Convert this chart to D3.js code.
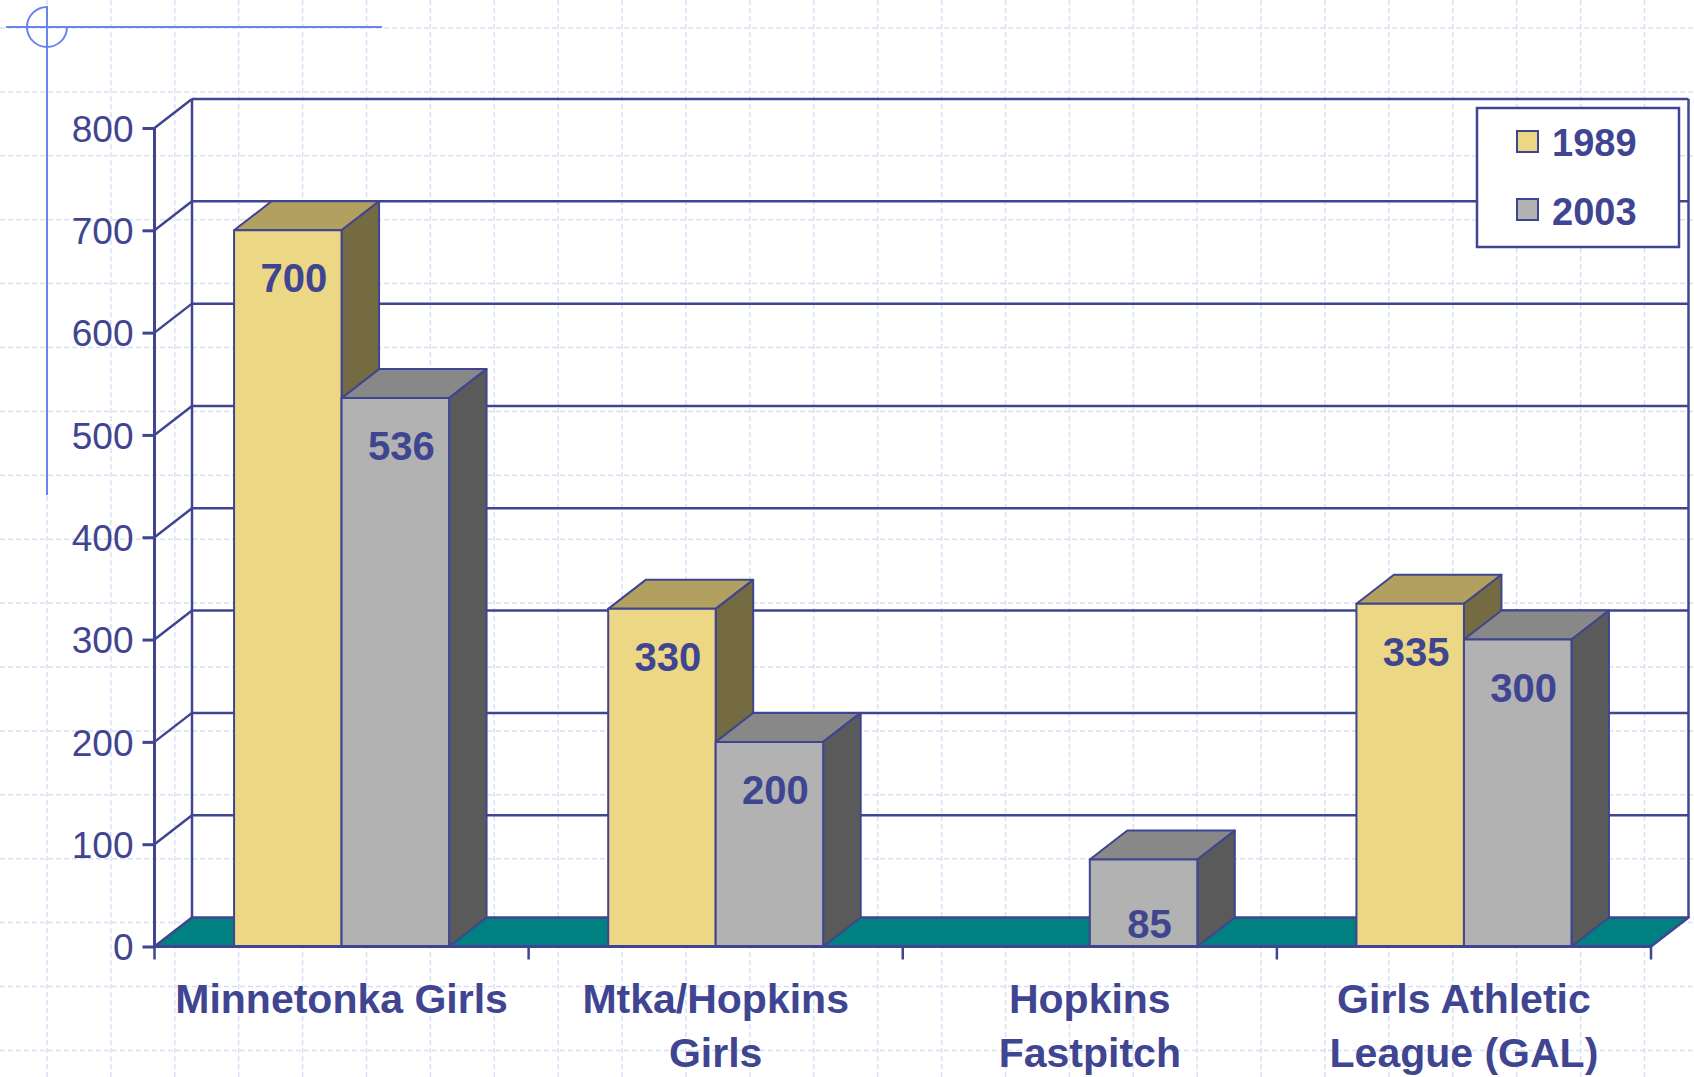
<!DOCTYPE html>
<html>
<head>
<meta charset="utf-8">
<script src="https://cdn.jsdelivr.net/npm/d3@7"></script>
<style>
  body { margin: 0; background: #fff; }
  svg { display: block; font-family: "Liberation Sans", Arial, sans-serif; }
</style>
</head>
<body>
<svg id="chart" width="1694" height="1077"></svg>
<script>
const categories = ['Minnetonka Girls', 'Mtka/Hopkins Girls', 'Hopkins Fastpitch', 'Girls Athletic League (GAL)']
const categoryLines = [['Minnetonka Girls'], ['Mtka/Hopkins', 'Girls'], ['Hopkins', 'Fastpitch'], ['Girls Athletic', 'League (GAL)']]
const seriesNames = ['1989', '2003']
const values1989 = [700, 330, null, 335]
const values2003 = [536, 200, 85, 300]
const yTicks = [0, 100, 200, 300, 400, 500, 600, 700, 800]

const ink = '#3f4590'
const faces = {
  '1989': { front: '#ebd784', top: '#b1a05f', side: '#756b42' },
  '2003': { front: '#b2b2b2', top: '#888888', side: '#5a5a5a' },
}

const W = 1694
const H = 1077
const margin = { left: 154.5, right: 43, top: 128, bottom: 130.5 }
const dx = 37.5
const dy = 29
const barHalf = 107.5

const svg = d3.select('#chart')

// template background grid
const bg = svg.append('g').attr('class', 'bg-grid')
  .attr('stroke', '#d8e0f6').attr('stroke-width', 1.5).attr('stroke-dasharray', '5,3')
d3.range(47, W, 63.9).forEach((gx) => {
  bg.append('line').attr('x1', gx).attr('x2', gx).attr('y1', 0).attr('y2', H)
})
d3.range(28, H, 63.9).forEach((gy) => {
  bg.append('line').attr('x1', 0).attr('x2', W).attr('y1', gy).attr('y2', gy)
})

// template ornament (top left)
const deco = svg.append('g').attr('stroke', '#6a84ee').attr('stroke-width', 2).attr('fill', 'none')
deco.append('line').attr('x1', 6).attr('x2', 382).attr('y1', 27).attr('y2', 27)
deco.append('line').attr('x1', 47).attr('x2', 47).attr('y1', 6).attr('y2', 495)
deco.append('path').attr('d', d3.arc()({ innerRadius: 20, outerRadius: 20, startAngle: Math.PI / 2, endAngle: 2 * Math.PI }))
  .attr('transform', 'translate(47,27)')

const y = d3.scaleLinear().domain([0, 800]).range([H - margin.bottom, margin.top])
const x0 = d3.scaleBand().domain(categories).range([margin.left, W - margin.right])
const x1 = d3.scaleBand().domain(seriesNames).range([-barHalf, barHalf])

const base = y(0)
const xL = x0.range()[0]
const xR = x0.range()[1]

// walls
const wall = svg.append('g').attr('class', 'walls').attr('stroke', ink).attr('fill', 'none')
yTicks.filter((t) => t > 0).forEach((t) => {
  wall.append('line').attr('x1', xL + dx).attr('x2', xR + dx).attr('y1', y(t) - dy).attr('y2', y(t) - dy)
    .attr('stroke-width', 2.5)
  wall.append('line').attr('x1', xL).attr('x2', xL + dx).attr('y1', y(t)).attr('y2', y(t) - dy)
    .attr('stroke-width', 2.5)
})
wall.append('line').attr('x1', xL + dx).attr('x2', xL + dx).attr('y1', y(800) - dy).attr('y2', base - dy)
  .attr('stroke-width', 2.5)
wall.append('line').attr('x1', xR + dx).attr('x2', xR + dx).attr('y1', y(800) - dy).attr('y2', base - dy)
  .attr('stroke-width', 2.5)

// floor
svg.append('polygon')
  .attr('points', [[xL, base], [xR, base], [xR + dx, base - dy], [xL + dx, base - dy]].join(' '))
  .attr('fill', '#008080').attr('stroke', ink).attr('stroke-width', 2.5).attr('stroke-linejoin', 'round')

// bars
const bars = []
categories.forEach((c, i) => {
  bars.push({ cat: c, series: '1989', value: values1989[i] })
  bars.push({ cat: c, series: '2003', value: values2003[i] })
})

const barG = svg.append('g').attr('class', 'bars')
  .attr('stroke', ink).attr('stroke-width', 2).attr('stroke-linejoin', 'round')

bars.filter((d) => d.value != null).forEach((d) => {
  const bx = x0(d.cat) + x0.bandwidth() / 2 + x1(d.series)
  const bw = x1.bandwidth()
  const top = y(d.value)
  const f = faces[d.series]
  barG.append('polygon')
    .attr('points', [[bx, top], [bx + dx, top - dy], [bx + bw + dx, top - dy], [bx + bw, top]].join(' '))
    .attr('fill', f.top)
  barG.append('polygon')
    .attr('points', [[bx + bw, top], [bx + bw + dx, top - dy], [bx + bw + dx, base - dy], [bx + bw, base]].join(' '))
    .attr('fill', f.side)
  barG.append('rect')
    .attr('x', bx).attr('y', top).attr('width', bw).attr('height', base - top)
    .attr('fill', f.front)
})

// value labels
svg.append('g').selectAll('text')
  .data(bars.filter((d) => d.value != null))
  .enter()
  .append('text')
  .attr('x', (d) => x0(d.cat) + x0.bandwidth() / 2 + x1(d.series) + x1.bandwidth() / 2 + 6)
  .attr('y', (d) => (base - y(d.value) < 110 ? base - 9 : y(d.value) + 62))
  .attr('text-anchor', 'middle')
  .attr('font-size', 40).attr('font-weight', 'bold').attr('fill', ink)
  .text((d) => d.value)

// front value axis
const yAxis = svg.append('g')
  .attr('transform', `translate(${xL},0)`)
  .call(d3.axisLeft(y).tickValues(yTicks).tickSize(12).tickPadding(9).tickSizeOuter(0))
yAxis.select('.domain').remove()
yAxis.selectAll('.tick line').attr('stroke', ink).attr('stroke-width', 3)
yAxis.selectAll('.tick text')
  .attr('font-family', '"Liberation Sans", Arial, sans-serif')
  .attr('font-size', 37).attr('fill', ink).attr('dy', '0.36em')

svg.append('line').attr('x1', xL).attr('x2', xL).attr('y1', y(800)).attr('y2', base)
  .attr('stroke', ink).attr('stroke-width', 3)
svg.append('line').attr('x1', xL).attr('x2', xR).attr('y1', base).attr('y2', base)
  .attr('stroke', ink).attr('stroke-width', 3)

// category boundary ticks
const bounds = categories.map((c) => x0(c)).concat([xR])
svg.append('g').selectAll('line')
  .data(bounds)
  .enter()
  .append('line')
  .attr('x1', (d) => d).attr('x2', (d) => d)
  .attr('y1', base).attr('y2', base + 13)
  .attr('stroke', ink).attr('stroke-width', 2.5)

// category labels
const catLabels = svg.append('g').selectAll('text')
  .data(categories)
  .enter()
  .append('text')
  .attr('text-anchor', 'middle')
  .attr('font-size', 41).attr('font-weight', 'bold').attr('fill', ink)

catLabels.each(function (c, i) {
  const cx = x0(c) + x0.bandwidth() / 2
  categoryLines[i].forEach((line, j) => {
    d3.select(this).append('tspan')
      .attr('x', cx).attr('y', 1013 + j * 54)
      .text(line)
  })
})

// legend
const legend = svg.append('g').attr('class', 'legend')
legend.append('rect')
  .attr('x', 1477).attr('y', 108).attr('width', 202).attr('height', 139)
  .attr('fill', '#fff').attr('stroke', ink).attr('stroke-width', 2.5)
seriesNames.forEach((s, i) => {
  legend.append('rect')
    .attr('x', 1517).attr('y', 131 + i * 68).attr('width', 21).attr('height', 21)
    .attr('fill', faces[s].front).attr('stroke', ink).attr('stroke-width', 2)
  legend.append('text')
    .attr('x', 1552).attr('y', 156 + i * 69)
    .attr('font-size', 38).attr('font-weight', 'bold').attr('fill', ink)
    .text(s)
})
</script>
</body>
</html>
